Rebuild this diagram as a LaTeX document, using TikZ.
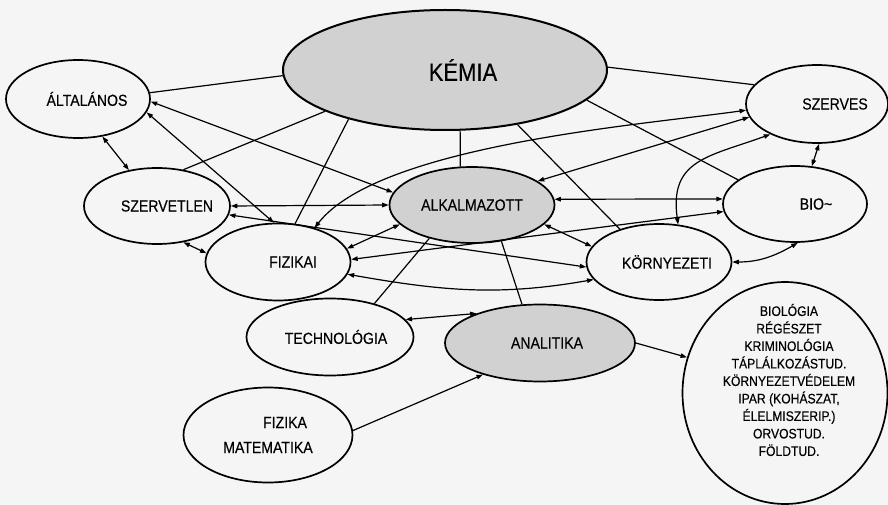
\documentclass[tikz,border=0pt]{standalone}
\usepackage{fontspec}
\setmainfont{Liberation Sans}[FakeStretch=0.88, FakeBold=0.3]
\usetikzlibrary{arrows.meta, shapes.geometric}

% text pushed to the right inside its ellipse
\newcommand{\jobbra}[2]{\makebox[0pt]{\hspace*{#1}\hspace*{#1}#2}}

\begin{document}
\begin{tikzpicture}[x=1pt, y=-1pt, <->, >={Triangle[length=6.5pt,width=4.5pt]}, line width=1.2pt,
    fogalom/.style={ellipse, draw, line width=1.7pt, inner sep=0pt,
        minimum width=145pt, minimum height=77pt, font=\fontsize{16}{18}\selectfont},
    szurke/.style={fill=black!18}]
    \path[-, use as bounding box, fill=black!4] (0,0) rectangle (888,505);

    \node[fogalom, szurke, minimum width=324pt, minimum height=120pt, line width=2pt,
        font=\fontsize{25}{27}\selectfont] (kemia) at (445,70) {\jobbra{18pt}{KÉMIA}};
    \node[fogalom, minimum width=144pt, minimum height=78pt] (altalanos) at (78,99) {\jobbra{9pt}{ÁLTALÁNOS}};
    \node[fogalom, minimum width=146pt, minimum height=76pt] (szervetlen) at (157,206) {\jobbra{10pt}{SZERVETLEN}};
    \node[fogalom] (fizikai) at (278,262) {\jobbra{15pt}{FIZIKAI}};
    \node[fogalom, szurke, minimum width=165pt, minimum height=76pt] (alkalmazott) at (472,205) {ALKALMAZOTT};
    \node[fogalom, minimum width=142pt, minimum height=78pt] (szerves) at (817,104) {\jobbra{18pt}{SZERVES}};
    \node[fogalom, minimum width=144pt, minimum height=76pt] (bio) at (795,204) {\jobbra{21pt}{BIO\textasciitilde}};
    \node[fogalom, minimum height=76pt] (kornyezeti) at (659,262) {\jobbra{8pt}{KÖRNYEZETI}};
    \node[fogalom, minimum width=167pt] (technologia) at (330,337) {\jobbra{6pt}{TECHNOLÓGIA}};
    \node[fogalom, szurke, minimum width=190pt] (analitika) at (540,343) {\jobbra{7pt}{ANALITIKA}};
    \node[fogalom, minimum width=169pt, minimum height=95pt, align=center,
        font=\fontsize{16}{25}\selectfont] (fizmat) at (268,435) {\hspace*{34pt}FIZIKA\\MATEMATIKA};
    \node[fogalom, minimum width=205pt, minimum height=222pt] (lista) at (785,393) {};
    \node[align=center, font=\fontsize{13.8}{17.5}\selectfont] (listaszoveg) at (789,380)
        {BIOLÓGIA\\RÉGÉSZET\\KRIMINOLÓGIA\\TÁPLÁLKOZÁSTUD.\\KÖRNYEZETVÉDELEM\\IPAR (KOHÁSZAT,\\ÉLELMISZERIP.)\\ORVOSTUD.\\FÖLDTUD.};

    \path
        (kemia.182) edge[-] (altalanos.5)
        (kemia.199) edge[-] (szervetlen.54)
        (kemia.207) edge[-] (fizikai.66)
        (kemia.284) edge[-] (alkalmazott.107)
        (kemia.323) edge[-] (kornyezeti.140)
        (kemia.348) edge[-] (bio.157)
        (kemia.1) edge[-] (szerves.163)
        (altalanos.303) edge (szervetlen.128)
        (altalanos.358) edge (alkalmazott.171)
        (altalanos.349) edge (fizikai.96)
        (szervetlen.0) edge (alkalmazott.180)
        (szervetlen.353) edge (kornyezeti.184)
        (szervetlen.306) edge (fizikai.173)
        (fizikai.11) edge (alkalmazott.195)
        (fizikai.2) edge (bio.186)
        (fizikai.350) edge[out=-10, in=190] (kornyezeti.195)
        (fizikai.43) edge[out=52, in=188, looseness=0.6] (szerves.185)
        (alkalmazott.4) edge (bio.176)
        (alkalmazott.20) edge (szerves.191)
        (alkalmazott.345) edge (kornyezeti.167)
        (alkalmazott.218) edge[-] (technologia.37)
        (alkalmazott.309) edge[-] (analitika.115)
        (kornyezeti.63) edge[out=98, in=200, looseness=1.3] (szerves.213)
        (kornyezeti.0) edge[out=0, in=210] (bio.274)
        (bio.66) edge (szerves.273)
        (technologia.13) edge (analitika.155)
        (fizmat.3) edge[->] (analitika.209)
        (analitika.0) edge[->] (lista.160);
\end{tikzpicture}
\end{document}
